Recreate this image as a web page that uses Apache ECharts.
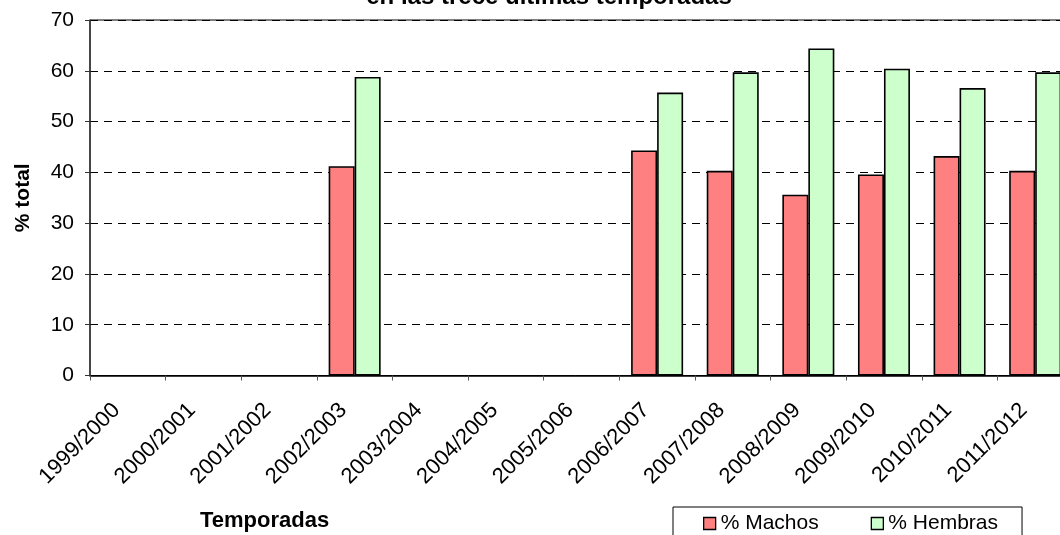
<!DOCTYPE html>
<html>
<head>
<meta charset="utf-8">
<script src="https://cdn.jsdelivr.net/npm/echarts@6/dist/echarts.min.js"></script>
<style>
  html, body { margin: 0; padding: 0; background: #fff; }
  #chart { width: 1060px; height: 535px; }
</style>
</head>
<body>
<div id="chart"></div>
<script>
// Seasons (temporadas) on the category axis
const temporadas = [
  '1999/2000', '2000/2001', '2001/2002', '2002/2003', '2003/2004',
  '2004/2005', '2005/2006', '2006/2007', '2007/2008', '2008/2009',
  '2009/2010', '2010/2011', '2011/2012'
];
// Share of males and females per season (%); null where no data
const machos  = [null, null, null, 41.2, null, null, null, 44.3, 40.3, 35.6, 39.6, 43.2, 40.3];
const hembras = [null, null, null, 58.8, null, null, null, 55.7, 59.7, 64.4, 60.4, 56.6, 59.7];

const FONT = '"Liberation Sans", Arial, sans-serif';

const chart = echarts.init(document.getElementById('chart'), null, { renderer: 'canvas' });

const barBase = {
  type: 'bar',
  barWidth: 26,
  barGap: '0%',
  itemStyle: { borderColor: '#000', borderWidth: 1.6 }
};

chart.setOption({
  animation: false,
  backgroundColor: '#fff',
  title: {
    text: 'en las trece últimas temporadas',
    left: 544,
    textAlign: 'center',
    top: -20,
    textStyle: { fontFamily: FONT, fontSize: 24, fontWeight: 'bold', color: '#000' }
  },
  // x-axis title drawn as free text under the rotated labels
  graphic: [{
    type: 'text',
    left: 200,
    top: 510,
    style: {
      text: 'Temporadas',
      fontFamily: FONT, fontSize: 22, fontWeight: 'bold', fill: '#000'
    }
  }],
  grid: {
    left: 90,
    top: 20,
    width: 983,
    height: 355.5,
    show: true,
    borderColor: '#000',
    borderWidth: 1,
    containLabel: false,
    outerBoundsMode: 'none'
  },
  legend: {
    data: ['% Machos', '% Hembras'],
    left: 673,
    top: 507,
    orient: 'horizontal',
    icon: 'rect',
    itemWidth: 12,
    itemHeight: 12,
    itemGap: 52,
    padding: [6, 24, 10, 30],
    borderColor: '#000',
    borderWidth: 1,
    backgroundColor: '#fff',
    itemStyle: { borderColor: '#000', borderWidth: 1.3 },
    textStyle: { fontFamily: FONT, fontSize: 21, color: '#000' }
  },
  xAxis: {
    type: 'category',
    data: temporadas,
    axisLine: { show: true, lineStyle: { color: '#000', width: 1.5 } },
    axisTick: { show: true, length: 5, lineStyle: { color: '#555' } },
    axisLabel: {
      rotate: 45,
      margin: 20,
      padding: [0, 16, 0, 0],
      interval: 0,
      fontFamily: FONT, fontSize: 22, color: '#000'
    },
    splitLine: { show: false }
  },
  yAxis: {
    type: 'value',
    min: 0,
    max: 70,
    interval: 10,
    name: '% total',
    nameLocation: 'middle',
    nameRotate: 90,
    nameGap: 56,
    nameTextStyle: { fontFamily: FONT, fontSize: 21, fontWeight: 'bold', color: '#000' },
    axisLine: { show: true, lineStyle: { color: '#333', width: 1.5 } },
    axisTick: { show: true, length: 5, lineStyle: { color: '#333' } },
    axisLabel: { margin: 16, fontFamily: FONT, fontSize: 21, color: '#000' },
    splitLine: { show: true, lineStyle: { color: '#000', type: [8, 6], width: 1 } }
  },
  series: [
    Object.assign({}, barBase, { name: '% Machos', data: machos, itemStyle: Object.assign({}, barBase.itemStyle, { color: '#FF8080' }) }),
    Object.assign({}, barBase, { name: '% Hembras', data: hembras, itemStyle: Object.assign({}, barBase.itemStyle, { color: '#CCFFCC' }) })
  ]
});
</script>
</body>
</html>
